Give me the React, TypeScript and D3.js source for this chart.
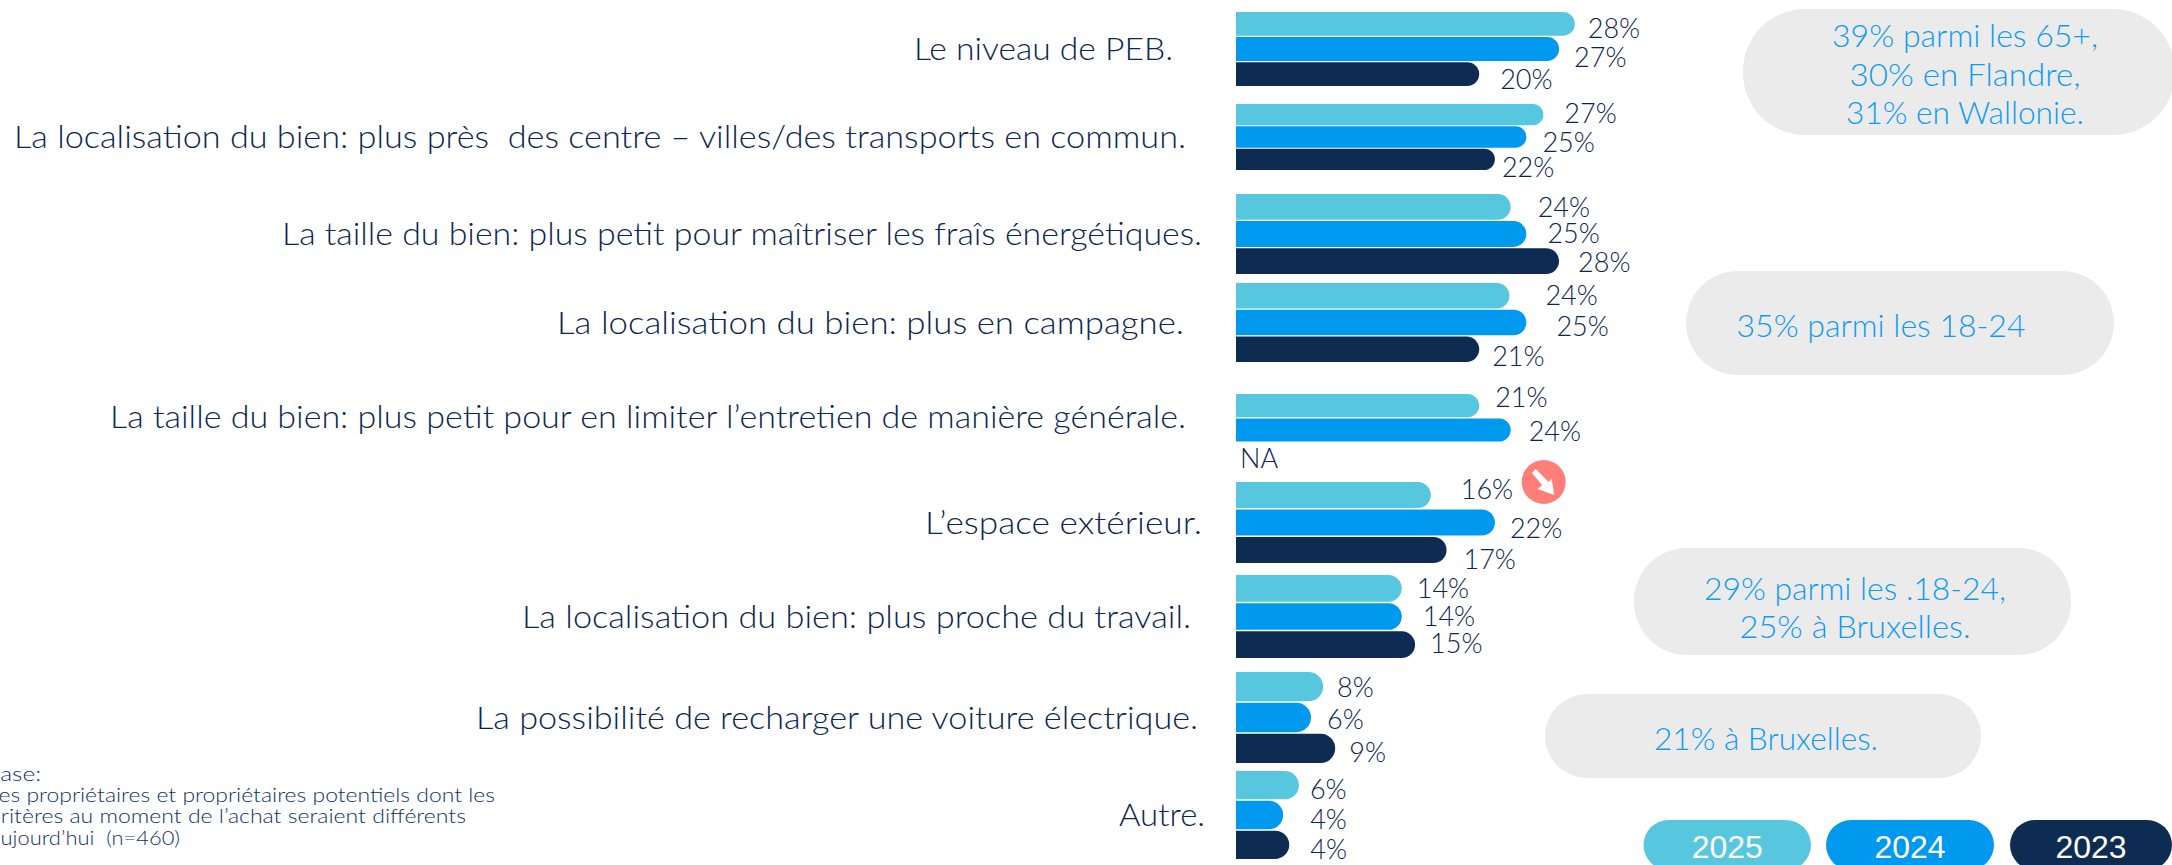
import React from "react";
import * as d3 from "d3";

// ---- data ----
const categories = [
  "Le niveau de PEB.",
  "La localisation du bien: plus près  des centre – villes/des transports en commun.",
  "La taille du bien: plus petit pour maîtriser les fraîs énergétiques.",
  "La localisation du bien: plus en campagne.",
  "La taille du bien: plus petit pour en limiter l’entretien de manière générale.",
  "L’espace extérieur.",
  "La localisation du bien: plus proche du travail.",
  "La possibilité de recharger une voiture électrique.",
  "Autre.",
];
const years = ["2025", "2024", "2023"];
// bar lengths as drawn in the picture
const bars2025 = [28.0, 25.4, 22.7, 22.6, 20.1, 16.1, 13.7, 7.2, 5.2];
const bars2024 = [26.7, 24.0, 24.0, 24.0, 22.7, 21.4, 13.7, 6.2, 3.9];
const bars2023: (number | null)[] = [20.1, 21.4, 26.7, 20.1, null, 17.4, 14.8, 8.2, 4.4];
// printed values
const labels2025 = ["28%", "27%", "24%", "24%", "21%", "16%", "14%", "8%", "6%"];
const labels2024 = ["27%", "25%", "25%", "25%", "24%", "22%", "14%", "6%", "4%"];
const labels2023 = ["20%", "22%", "28%", "21%", "NA", "17%", "15%", "9%", "4%"];
const callouts = [
  ["39% parmi les 65+,", "30% en Flandre,", "31% en Wallonie."],
  ["35% parmi les 18-24"],
  ["29% parmi les .18-24,", "25% à Bruxelles."],
  ["21% à Bruxelles."],
];
const footnote = [
  "Base:",
  "Les propriétaires et propriétaires potentiels dont les",
  "critères au moment de l’achat seraient différents",
  "aujourd’hui  (n=460)",
];

// ---- layout ----
const W = 2172, H = 865;
const colors = ["#57C7E0", "#0099F0", "#0E2B52"];
const ink = "#0C2650";
const sky = "#0F9BF5";
const font = "Lato, 'Open Sans', sans-serif";
const rowExtent: [number, number][] = [
  [12, 86], [104, 170], [194, 274], [283, 362], [394, 466],
  [482, 563], [575, 658], [672, 763], [771, 859],
];
const catBox: [number, number, number][] = [
  [914, 259, 60], [14, 1172, 148], [282, 920, 245], [557, 627, 334], [110, 1076, 428],
  [925, 277, 534], [522, 669, 628], [476, 722, 729], [1119, 86, 826],
];
const labelDx = [
  [13, 15, 21], [21, 16, 7], [27, 21, 19], [36, 30, 13], [16, 18, 0],
  [30, 15, 17], [15, 21, 15], [14, 16, 14], [11, 27, 21],
];
const labelDy = [
  [4, 8, 5], [-1, 5, 8], [0, -1, 1], [0, 3.5, 7], [-8.5, 1.5, 3.5],
  [-5.5, 5.5, 9.5], [0, 0, -1], [1, 1.5, 4], [4, 4, 4],
];
const pillBox = [
  { x0: 1743, x1: 2175, y0: 9, y1: 135, r: 62, cx: 1965, base: [47, 86, 124], w: [266, 231, 238] },
  { x0: 1686, x1: 2114, y0: 271, y1: 375, r: 52, cx: 1881, base: [337], w: [289] },
  { x0: 1634, x1: 2071, y0: 548, y1: 655, r: 53, cx: 1855, base: [600, 638], w: [302, 231] },
  { x0: 1545, x1: 1981, y0: 694, y1: 778, r: 42, cx: 1766, base: [750], w: [224] },
];
const legendBox: [number, number][] = [[1643.5, 1811], [1826, 1994], [2010, 2172]];
const footBox: [number, number, number][] = [
  [-15, 56, 781], [-12, 507, 802], [-10, 476, 823], [-10, 190, 845],
];

const x = d3.scaleLinear().domain([0, 30]).range([1236, 1236 + 363]);
const series = [bars2025, bars2024, bars2023];
const printed = [labels2025, labels2024, labels2023];

function rightRounded(x0: number, x1: number, y0: number, y1: number) {
  const r = Math.min((y1 - y0) / 2, x1 - x0);
  const p = d3.path();
  p.moveTo(x0, y0);
  p.lineTo(x1 - r, y0);
  p.arcTo(x1, y0, x1, y0 + r, r);
  p.lineTo(x1, y1 - r);
  p.arcTo(x1, y1, x1 - r, y1, r);
  p.lineTo(x0, y1);
  p.closePath();
  return p.toString();
}

export default function App() {
  const rows = categories.map((_, i) =>
    d3.scaleBand<number>().domain([0, 1, 2]).range(rowExtent[i]).paddingInner(0.05).paddingOuter(0)
  );
  return (
    <svg
      width={W}
      height={H}
      viewBox={`0 0 ${W} ${H}`}
      style={{ position: "fixed", left: 0, top: 0, background: "#fff", fontFamily: font }}
    >
      {/* category labels */}
      {categories.map((c, i) => (
        <text
          key={c}
          x={catBox[i][0]}
          y={catBox[i][2]}
          fontSize={31}
          fontWeight={300}
          fill={ink}
          textLength={catBox[i][1]}
          lengthAdjust="spacingAndGlyphs"
          xmlSpace="preserve"
        >
          {c}
        </text>
      ))}

      {/* callouts */}
      {callouts.map((lines, k) => {
        const b = pillBox[k];
        return (
          <g key={k}>
            <rect x={b.x0} y={b.y0} width={b.x1 - b.x0} height={b.y1 - b.y0} rx={b.r} fill="#EBEBEB" />
            {lines.map((t, j) => (
              <text
                key={t}
                x={b.cx}
                y={b.base[j]}
                textAnchor="middle"
                fontSize={32}
                fontWeight={300}
                fill={sky}
                textLength={b.w[j]}
                lengthAdjust="spacingAndGlyphs"
              >
                {t}
              </text>
            ))}
          </g>
        );
      })}

      {/* bars */}
      {categories.map((c, i) =>
        series.map((s, k) => {
          const v = s[i];
          if (v == null) return null;
          const y0 = rows[i](k)!;
          return (
            <path
              key={`${c}-${k}`}
              d={rightRounded(x(0), x(v), y0, y0 + rows[i].bandwidth())}
              fill={colors[k]}
            />
          );
        })
      )}

      {/* value labels */}
      {categories.map((c, i) =>
        series.map((s, k) => {
          const v = s[i];
          const cy = rows[i](k)! + rows[i].bandwidth() / 2 + labelDy[i][k];
          const lx = v == null ? x(0) + 4 : x(v) + labelDx[i][k];
          return (
            <text
              key={`${c}-l${k}`}
              x={lx}
              y={cy}
              dy="0.36em"
              fontSize={27}
              fontWeight={300}
              fill={ink}
            >
              {printed[k][i]}
            </text>
          );
        })
      )}

      {/* down badge */}
      <g transform="translate(1543.7,482)">
        <circle r={22} fill="#FF7F78" />
        <path d="M-12,-9 L-8,-13 L5,0 L8,-3.5 L10.5,13 L-6,7 L-1.5,3 Z" fill="#fff" />
      </g>

      {/* footnote */}
      {footnote.map((t, j) => (
        <text
          key={t}
          x={footBox[j][0]}
          y={footBox[j][2]}
          fontSize={20}
          fontWeight={300}
          fill="#0F2F66"
          textLength={footBox[j][1]}
          lengthAdjust="spacingAndGlyphs"
          xmlSpace="preserve"
        >
          {t}
        </text>
      ))}

      {/* legend */}
      {years.map((y, k) => (
        <g key={y}>
          <rect
            x={legendBox[k][0]}
            y={820}
            width={legendBox[k][1] - legendBox[k][0]}
            height={50}
            rx={25}
            fill={colors[k]}
          />
          <text
            x={(legendBox[k][0] + legendBox[k][1]) / 2}
            y={858}
            textAnchor="middle"
            fontSize={32}
            fill="#fff"
            fontFamily="'Liberation Sans', Arial, sans-serif"
          >
            {y}
          </text>
        </g>
      ))}
    </svg>
  );
}
